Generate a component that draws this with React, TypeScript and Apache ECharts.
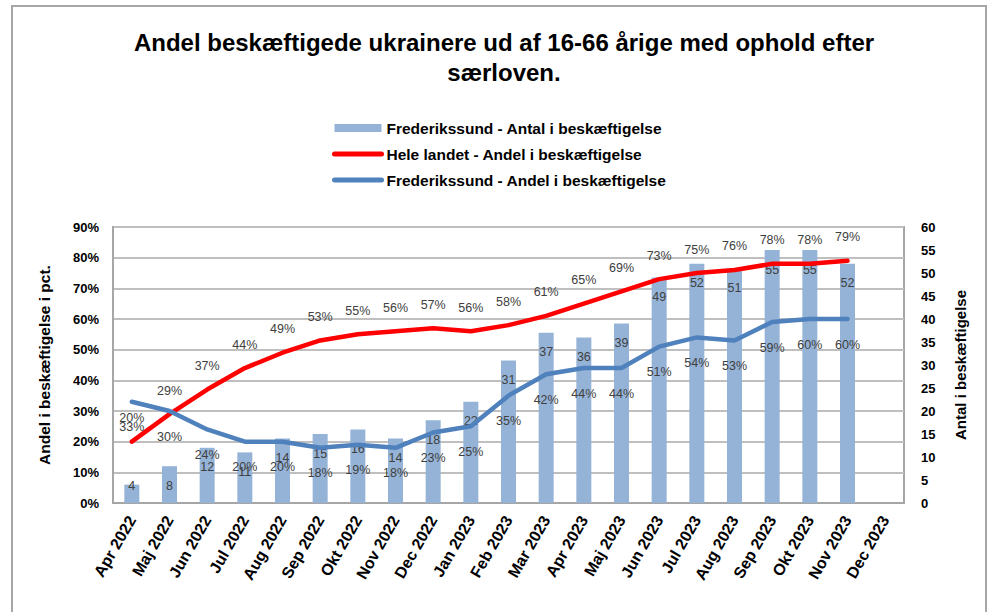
import React, { useEffect, useRef } from "react";
import * as echarts from "echarts";

const categories = [
  "Apr 2022", "Maj 2022", "Jun 2022", "Jul 2022", "Aug 2022", "Sep 2022", "Okt 2022",
  "Nov 2022", "Dec 2022", "Jan 2023", "Feb 2023", "Mar 2023", "Apr 2023", "Maj 2023",
  "Jun 2023", "Jul 2023", "Aug 2023", "Sep 2023", "Okt 2023", "Nov 2023", "Dec 2023",
];
const antalFrederikssund = [4, 8, 12, 11, 14, 15, 16, 14, 18, 22, 31, 37, 36, 39, 49, 52, 51, 55, 55, 52, null];
const andelHeleLandet = [20, 29, 37, 44, 49, 53, 55, 56, 57, 56, 58, 61, 65, 69, 73, 75, 76, 78, 78, 79, null];
const andelFrederikssund = [33, 30, 24, 20, 20, 18, 19, 18, 23, 25, 35, 42, 44, 44, 51, 54, 53, 59, 60, 60, null];

const FONT = "'Liberation Sans', Arial, sans-serif";

export default function App() {
  const ref = useRef<HTMLDivElement>(null);
  useEffect(() => {
    if (!ref.current) return;
    const chart = echarts.init(ref.current, undefined, { renderer: "svg" });
    chart.setOption({
      animation: false,
      backgroundColor: "#ffffff",
      textStyle: { fontFamily: FONT },
      graphic: [
        {
          type: "rect",
          shape: { x: 12, y: 6, width: 974, height: 640 },
          style: { fill: "none", stroke: "#a6a6a6", lineWidth: 2 },
          silent: true,
        },
      ],
      title: {
        text: "Andel beskæftigede ukrainere ud af 16-66 årige med ophold efter\nsærloven.",
        left: 499,
        textAlign: "center",
        top: 22,
        textStyle: { fontFamily: FONT, fontSize: 24, fontWeight: "bold", color: "#000", lineHeight: 30 },
      },
      legend: {
        orient: "vertical",
        left: 332,
        top: 120,
        padding: 0,
        itemWidth: 47,
        itemHeight: 8,
        itemGap: 10,
        textStyle: { fontFamily: FONT, fontSize: 15.5, fontWeight: "bold", color: "#000" },
        data: [
          { name: "Frederikssund - Antal i beskæftigelse", icon: "rect" },
          {
            name: "Hele landet - Andel i beskæftigelse",
            itemStyle: { opacity: 0 },
            lineStyle: { width: 5, color: "#ff0000", cap: "round" },
          },
          {
            name: "Frederikssund - Andel i beskæftigelse",
            itemStyle: { opacity: 0 },
            lineStyle: { width: 5, color: "#4f81bd", cap: "round" },
          },
        ],
      },
      grid: {
        left: 113,
        right: 83,
        top: 227,
        bottom: 109,
        show: true,
        borderColor: "#a6a6a6",
        borderWidth: 2,
      },
      xAxis: {
        type: "category",
        data: categories,
        boundaryGap: true,
        axisLine: { lineStyle: { color: "#a6a6a6", width: 2 } },
        axisTick: { show: false },
        axisLabel: {
          interval: 0,
          rotate: 60,
          margin: 14,
          fontFamily: FONT,
          fontSize: 16,
          fontWeight: "bold",
          color: "#000",
        },
      },
      yAxis: [
        {
          type: "value",
          min: 0,
          max: 90,
          interval: 10,
          name: "Andel i beskæftigelse i pct.",
          nameLocation: "middle",
          nameRotate: 90,
          nameGap: 61,
          nameTextStyle: { fontFamily: FONT, fontSize: 15.5, fontWeight: "bold", color: "#000" },
          axisLine: { show: true, lineStyle: { color: "#a6a6a6", width: 2 } },
          axisTick: { show: false },
          axisLabel: {
            formatter: "{value}%",
            margin: 14,
            fontFamily: FONT,
            fontSize: 13,
            fontWeight: "bold",
            color: "#000",
          },
          splitLine: { lineStyle: { color: "#bfbfbf", width: 2 } },
        },
        {
          type: "value",
          min: 0,
          max: 60,
          interval: 5,
          name: "Antal i beskæftigelse",
          nameLocation: "middle",
          nameRotate: 90,
          nameGap: 49,
          nameTextStyle: { fontFamily: FONT, fontSize: 15, fontWeight: "bold", color: "#000" },
          axisLine: { show: false },
          axisTick: { show: false },
          axisLabel: {
            margin: 17,
            fontFamily: FONT,
            fontSize: 13,
            fontWeight: "bold",
            color: "#000",
          },
          splitLine: { show: false },
        },
      ],
      series: [
        {
          name: "Frederikssund - Antal i beskæftigelse",
          type: "bar",
          yAxisIndex: 1,
          barWidth: 15,
          itemStyle: { color: "#95b3d7" },
          label: {
            show: true,
            position: "insideTop",
            distance: 13,
            fontFamily: FONT,
            fontSize: 12.5,
            color: "#404040",
          },
          data: antalFrederikssund.map((v, i) =>
            i === 0 ? { value: v, label: { position: "top", distance: -8 } } : v
          ),
          z: 1,
        },
        {
          name: "Hele landet - Andel i beskæftigelse",
          type: "line",
          yAxisIndex: 0,
          symbol: "circle",
          symbolSize: 0,
          showSymbol: true,
          lineStyle: { color: "#ff0000", width: 4.5, cap: "round" },
          itemStyle: { color: "#ff0000" },
          label: {
            show: true,
            position: "top",
            distance: 17,
            formatter: "{c}%",
            fontFamily: FONT,
            fontSize: 12.5,
            color: "#404040",
          },
          data: andelHeleLandet,
          z: 3,
        },
        {
          name: "Frederikssund - Andel i beskæftigelse",
          type: "line",
          yAxisIndex: 0,
          symbol: "circle",
          symbolSize: 0,
          showSymbol: true,
          lineStyle: { color: "#4f81bd", width: 4.5, cap: "round" },
          itemStyle: { color: "#4f81bd" },
          label: {
            show: true,
            position: "bottom",
            distance: 19,
            formatter: "{c}%",
            fontFamily: FONT,
            fontSize: 12.5,
            color: "#404040",
          },
          data: andelFrederikssund,
          z: 3,
        },
      ],
    });
    return () => chart.dispose();
  }, []);
  return (
    <div
      ref={ref}
      style={{ position: "absolute", left: 0, top: 0, width: 987, height: 612, background: "#fff" }}
    />
  );
}
